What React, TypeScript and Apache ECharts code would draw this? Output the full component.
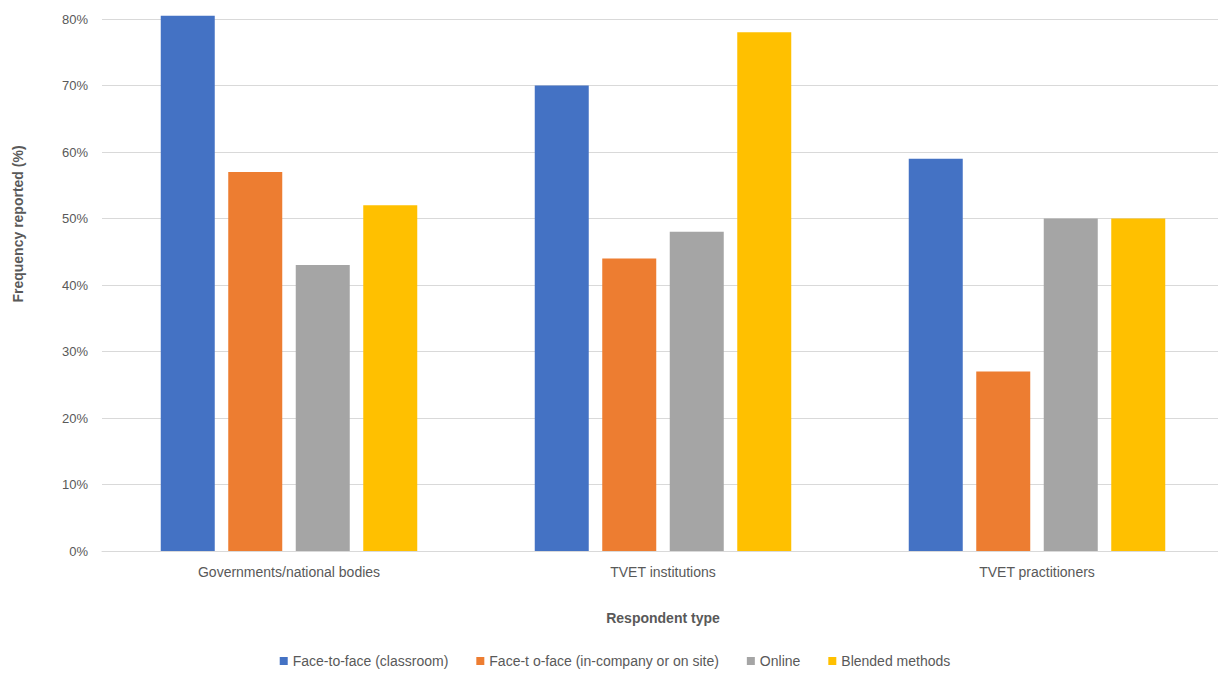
import React, { useEffect, useRef } from "react";
import * as echarts from "echarts";

const categories = ["Governments/national bodies", "TVET institutions", "TVET practitioners"];
const seriesNames = [
  "Face-to-face (classroom)",
  "Face-t o-face (in-company or on site)",
  "Online",
  "Blended methods",
];
const classroom = [80.5, 70, 59];
const inCompany = [57, 44, 27];
const online = [43, 48, 50];
const blended = [52, 78, 50];
const colors = ["#4472C4", "#ED7D31", "#A5A5A5", "#FFC000"];

const FONT = "'Liberation Sans', Arial, sans-serif";

export default function App() {
  const ref = useRef<HTMLDivElement>(null);
  useEffect(() => {
    if (!ref.current) return;
    const chart = echarts.init(ref.current, undefined, { renderer: "svg" });
    const values = [classroom, inCompany, online, blended];
    chart.setOption({
      animation: false,
      backgroundColor: "#ffffff",
      textStyle: { fontFamily: FONT },
      grid: { left: 102, right: 6, top: 19, bottom: 130 },
      legend: {
        bottom: 8,
        left: "center",
        itemWidth: 8,
        itemHeight: 8,
        itemGap: 28,
        icon: "rect",
        textStyle: { color: "#595959", fontSize: 14, fontFamily: FONT },
        data: seriesNames,
      },
      xAxis: {
        type: "category",
        data: categories,
        axisLine: { lineStyle: { color: "#d9d9d9", width: 1 } },
        axisTick: { show: false },
        axisLabel: { color: "#595959", fontSize: 14, margin: 14 },
        name: "Respondent type",
        nameLocation: "middle",
        nameGap: 60,
        nameTextStyle: { color: "#595959", fontSize: 14, fontWeight: "bold" },
      },
      yAxis: {
        type: "value",
        min: 0,
        max: 80,
        interval: 10,
        axisLine: { show: false },
        axisTick: { show: false },
        axisLabel: { color: "#595959", fontSize: 13, margin: 14, formatter: "{value}%" },
        splitLine: { lineStyle: { color: "#d9d9d9", width: 1 } },
      },
      graphic: [
        {
          type: "text",
          x: 18,
          y: 224,
          rotation: Math.PI / 2,
          style: {
            text: "Frequency reported (%)",
            fill: "#595959",
            font: `bold 14px ${FONT}`,
            align: "center",
            verticalAlign: "middle",
          },
        },
      ],
      series: values.map((v, i) => ({
        type: "bar",
        name: seriesNames[i],
        data: v,
        barWidth: 54,
        barGap: "25%",
        clip: false,
        itemStyle: { color: colors[i] },
      })),
    });
    return () => chart.dispose();
  }, []);
  return (
    <div
      style={{
        position: "fixed",
        left: 0,
        top: 0,
        width: 1218,
        height: 681,
        overflow: "hidden",
        background: "#fff",
      }}
    >
      <div ref={ref} style={{ width: 1230, height: 681 }} />
    </div>
  );
}
